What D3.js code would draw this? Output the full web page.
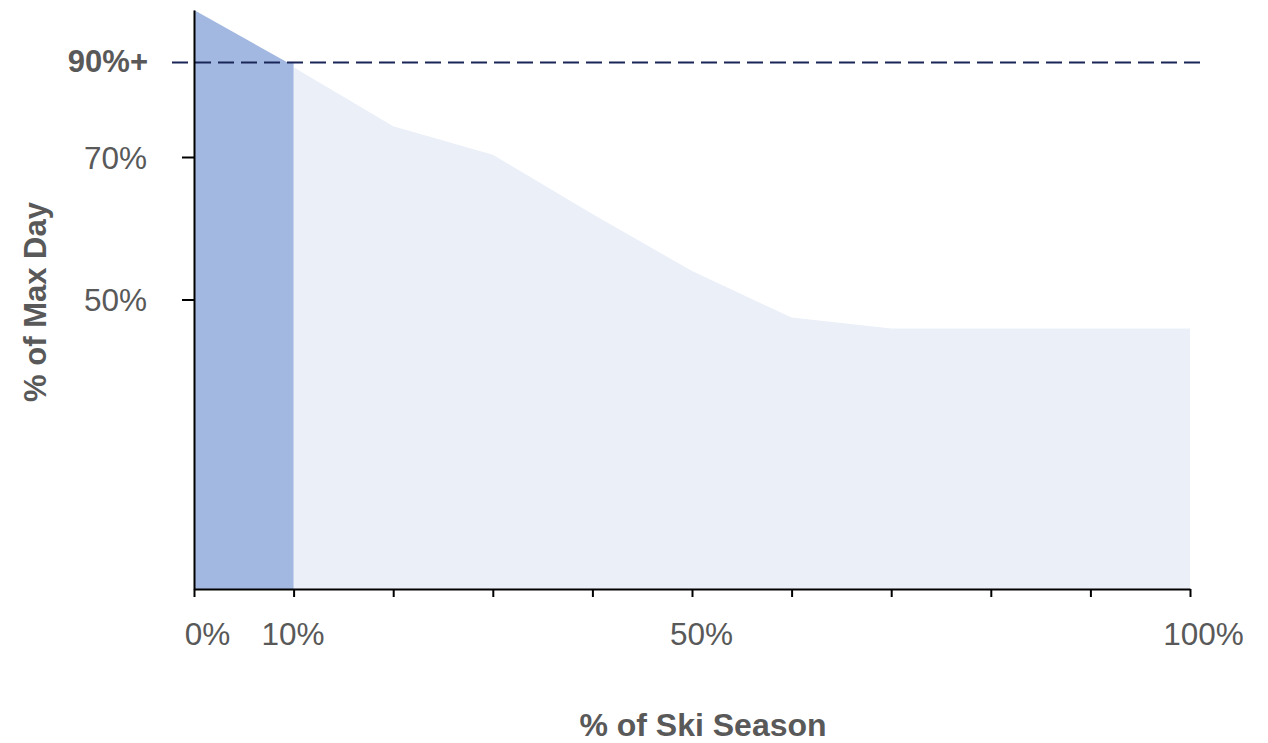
<!DOCTYPE html>
<html>
<head>
<meta charset="utf-8">
<script src="https://cdn.jsdelivr.net/npm/d3@7"></script>
<style>
  html, body { margin: 0; padding: 0; background: #fff; }
  svg { display: block; font-family: "Liberation Sans", Arial, sans-serif; }
</style>
</head>
<body>
<svg id="chart" width="1268" height="743"></svg>
<script>
// Share of the ski season (x, %) against visitors as a share of the busiest day (y, %)
const seasonPct = [10, 20, 30, 40, 50, 60, 70, 80, 90, 100];
const maxDayPct = [89, 76.5, 70.5, 62, 54, 47.5, 46, 46, 46, 46];

// Peak stretch: the top of the season, down to the 90% threshold
const peakSeasonPct = [0, 9.4, 10];
const peakMaxDayPct = [100, 90, 90];

const thresholdPct = 90;

const xTickValues = [0, 10, 20, 30, 40, 50, 60, 70, 80, 90, 100];
const xTickLabels = ["0%", "10%", "", "", "", "50%", "", "", "", "", "100%"];
const yTickValues = [50, 70];
const yTickLabels = ["50%", "70%"];
const thresholdLabel = "90%+";

const xTitle = "% of Ski Season";
const yTitle = "% of Max Day";

const svg = d3.select("#chart");
const textColor = "#595959";
const tickFont = 31.5;
const titleFont = 32;

const x = d3.scaleLinear().domain([0, 100]).range([194, 1190]);
// Stretched scale: upper band compressed so the peak fits above the threshold
const y = d3.scaleLinear()
  .domain([10, 50, 70, 90, 100])
  .range([589, 299.5, 157, 62.5, 10]);

const baseVal = y.domain()[0];

const area = d3.area()
  .x(d => x(d[0]))
  .y0(y(baseVal))
  .y1(d => y(d[1]));

svg.append("path")
  .datum(d3.zip(seasonPct, maxDayPct))
  .attr("fill", "#eaeff8")
  .attr("d", area);

svg.append("path")
  .datum(d3.zip(peakSeasonPct, peakMaxDayPct))
  .attr("fill", "#a2b8e1")
  .attr("d", area);

// Threshold line
svg.append("line")
  .attr("x1", 172).attr("x2", 1203)
  .attr("y1", y(thresholdPct)).attr("y2", y(thresholdPct))
  .attr("stroke", "#1a2558")
  .attr("stroke-width", 2.2)
  .attr("stroke-dasharray", "16,7");

// X axis
const xLabelNudge = { "0%": 13, "10%": -1, "50%": 9, "100%": 13 };
const xAxis = svg.append("g")
  .attr("transform", `translate(0,${y(baseVal)})`)
  .call(d3.axisBottom(x)
    .tickValues(xTickValues)
    .tickFormat((d, i) => xTickLabels[i])
    .tickSize(8)
    .tickSizeOuter(0)
    .tickPadding(26));
xAxis.select(".domain").attr("stroke", "#000").attr("stroke-width", 2);
xAxis.selectAll(".tick line").attr("stroke", "#000").attr("stroke-width", 2);
xAxis.selectAll(".tick text")
  .attr("fill", textColor)
  .attr("font-size", tickFont)
  .attr("font-family", "Liberation Sans, Arial, sans-serif")
  .attr("dx", function () { return xLabelNudge[this.textContent] || 0; });

// Y axis
const yAxis = svg.append("g")
  .attr("transform", `translate(${x(0)},0)`)
  .call(d3.axisLeft(y)
    .tickValues(yTickValues)
    .tickFormat((d, i) => yTickLabels[i])
    .tickSize(12)
    .tickSizeOuter(0)
    .tickPadding(35));
yAxis.select(".domain").attr("stroke", "#000").attr("stroke-width", 2);
yAxis.selectAll(".tick line").attr("stroke", "#000").attr("stroke-width", 2);
yAxis.selectAll(".tick text")
  .attr("fill", textColor)
  .attr("font-size", tickFont)
  .attr("font-family", "Liberation Sans, Arial, sans-serif")
  .attr("dy", "0.36em");

svg.append("text")
  .attr("x", 148)
  .attr("y", y(thresholdPct))
  .attr("dy", "0.32em")
  .attr("text-anchor", "end")
  .attr("fill", textColor)
  .attr("font-size", 31)
  .attr("font-weight", "bold")
  .text(thresholdLabel);

// Axis titles
svg.append("text")
  .attr("x", 703)
  .attr("y", 736)
  .attr("text-anchor", "middle")
  .attr("fill", textColor)
  .attr("font-size", titleFont)
  .attr("font-weight", "bold")
  .text(xTitle);

svg.append("text")
  .attr("transform", "translate(46,302) rotate(-90)")
  .attr("text-anchor", "middle")
  .attr("fill", textColor)
  .attr("font-size", 31)
  .attr("font-weight", "bold")
  .text(yTitle);
</script>
</body>
</html>
